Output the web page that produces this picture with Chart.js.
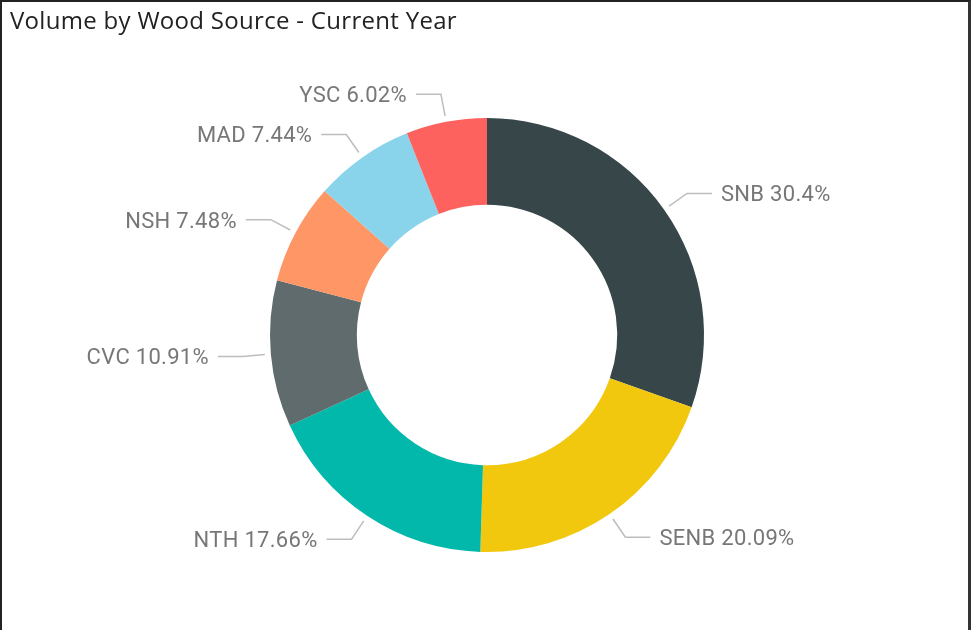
<!DOCTYPE html>
<html>
<head>
<meta charset="utf-8">
<script src="https://cdn.jsdelivr.net/npm/chart.js@4.4.0/dist/chart.umd.min.js"></script>
<style>
  html, body { margin: 0; padding: 0; background: #fff; overflow: hidden; }
  #wrap { position: absolute; left: 0; top: 0; width: 971px; height: 630px; }
  #frame { position: absolute; left: 0; top: 0; width: 971px; height: 660px; box-sizing: border-box;
           border-top: 2px solid #222; border-left: 2px solid #222; border-right: 3px solid #333; pointer-events: none; }
  canvas { position: absolute; left: 0; top: 0; }
</style>
</head>
<body>
<div id="wrap">
  <canvas id="c" width="971" height="630"></canvas>
  <div id="frame"></div>
</div>
<script>
const titleText = 'Volume by Wood Source - Current Year';
const categories = ['SNB', 'SENB', 'NTH', 'CVC', 'NSH', 'MAD', 'YSC'];
const shares = [30.4, 20.09, 17.66, 10.91, 7.48, 7.44, 6.02];
const colors = ['#374649', '#F2C80F', '#01B8AA', '#5F6B6D', '#FE9666', '#8AD4EB', '#FD625E'];

const labelPlugin = {
  id: 'pbiLabels',
  afterDraw(chart) {
    const ctx = chart.ctx;
    // title
    ctx.save();
    ctx.fillStyle = '#222';
    ctx.font = '24px "Open Sans", "Noto Sans", sans-serif';
    try { ctx.letterSpacing = '0.3px'; } catch (e) {}
    ctx.textBaseline = 'alphabetic';
    ctx.textAlign = 'left';
    ctx.fillText(titleText, 10, 29);
    ctx.restore();

    const meta = chart.getDatasetMeta(0);
    ctx.save();
    ctx.font = '22px Roboto, "DejaVu Sans", sans-serif';
    try { ctx.letterSpacing = '0.3px'; } catch (e) {}
    ctx.textBaseline = 'alphabetic';
    meta.data.forEach((arc, i) => {
      const p = arc.getProps(['x', 'y', 'startAngle', 'endAngle', 'outerRadius'], true);
      const mid = (p.startAngle + p.endAngle) / 2;
      const cx = Math.cos(mid), cy = Math.sin(mid);
      const r0 = p.outerRadius + 6, r1 = p.outerRadius + 28;
      const x0 = p.x + cx * r0, y0 = p.y + cy * r0;
      const x1 = p.x + cx * r1, y1 = p.y + cy * r1;
      const dir = cx >= 0 ? 1 : -1;
      const x2 = x1 + dir * 25;
      ctx.strokeStyle = '#bdbdbd';
      ctx.lineWidth = 1.5;
      ctx.beginPath();
      ctx.moveTo(x0, y0);
      ctx.lineTo(x1, y1);
      ctx.lineTo(x2, y1);
      ctx.stroke();
      ctx.fillStyle = '#777777';
      ctx.textAlign = dir > 0 ? 'left' : 'right';
      ctx.fillText(categories[i] + ' ' + shares[i] + '%', x2 + dir * 9, y1 + 8);
    });
    ctx.restore();
  }
};

new Chart(document.getElementById('c'), {
  type: 'doughnut',
  data: {
    labels: categories,
    datasets: [{
      data: shares,
      backgroundColor: colors,
      borderWidth: 0,
      hoverOffset: 0
    }]
  },
  options: {
    responsive: false,
    animation: false,
    cutout: '60%',
    layout: { padding: { top: 118, bottom: 78, left: 3, right: 0 } },
    plugins: {
      legend: { display: false },
      tooltip: { enabled: false },
      title: { display: false }
    }
  },
  plugins: [labelPlugin]
});
</script>
</body>
</html>
